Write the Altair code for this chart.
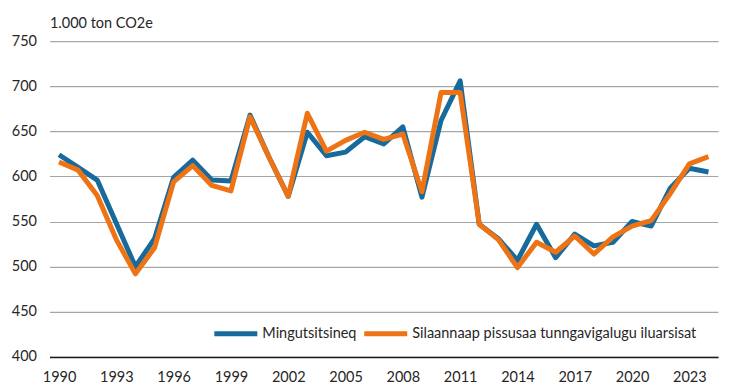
import altair as alt
import pandas as pd

years = list(range(1990, 2025))
mingutsitsineq = [624, 610, 596, 548, 500, 531, 599, 618, 596, 595, 668, 621, 578, 649, 623, 627, 644, 636, 655, 577,
                  662, 706, 547, 531, 507, 547, 510, 536, 523, 527, 550, 545, 587, 609, 605]
silaannaap = [616, 607, 579, 530, 492, 521, 594, 612, 590, 584, 666, 621, 578, 670, 628, 640, 649, 641, 647, 583,
              693, 693, 547, 530, 499, 527, 516, 534, 514, 533, 545, 551, 581, 614, 622]
series_names = ["Mingutsitsineq", "Silaannaap pissusaa tunngavigalugu iluarsisat"]
colors = ["#176A9C", "#EE7314"]
x_labels = list(range(1990, 2025, 3))
y_ticks = list(range(400, 751, 50))

rows = []
for y, a, b in zip(years, mingutsitsineq, silaannaap):
    rows.append({"year": y, "value": a, "series": series_names[0]})
    rows.append({"year": y, "value": b, "series": series_names[1]})
df = pd.DataFrame(rows)

FONT = "Lato"
FS = 14.5

chart = alt.Chart(df).mark_line(strokeWidth=5, strokeJoin="round", strokeCap="butt").encode(
    x=alt.X("year:O", scale=alt.Scale(type="point", padding=0.5),
            axis=alt.Axis(values=x_labels, title=None, labelAngle=0, ticks=False,
                          domain=True, domainColor="#1a1a1a", domainWidth=1.5,
                          labelPadding=14, labelFontSize=FS, labelFont=FONT, labelColor="#262626")),
    y=alt.Y("value:Q", scale=alt.Scale(domain=[400, 750], nice=False, zero=False),
            axis=alt.Axis(values=y_ticks, title="1.000 ton CO2e", titleAngle=0, titleX=0, titleY=-18,
                          titleAlign="left", titleBaseline="middle", titleFont=FONT, titleFontSize=FS,
                          titleFontWeight="normal", titleColor="#262626",
                          domain=False, ticks=False, grid=True, gridColor="#A6A6A6", gridWidth=1.2,
                          labelPadding=13, labelFontSize=FS, labelFont=FONT, labelColor="#262626")),
    color=alt.Color("series:N", scale=alt.Scale(domain=series_names, range=colors),
                    legend=alt.Legend(orient="none", legendX=162, legendY=268, direction="horizontal",
                                      title=None, symbolType="stroke", symbolSize=1850,
                                      symbolStrokeWidth=5, labelFont=FONT, labelFontSize=FS,
                                      labelLimit=0, labelColor="#262626", columnPadding=-4, labelOffset=2)),
).properties(
    width=669, height=316,
    autosize=alt.AutoSizeParams(type="none"),
    padding={"left": 41.5, "top": 33, "right": 8, "bottom": 33},
).configure_view(stroke=None)

chart.save("out.html", embed_options={"renderer": "svg", "actions": False})
